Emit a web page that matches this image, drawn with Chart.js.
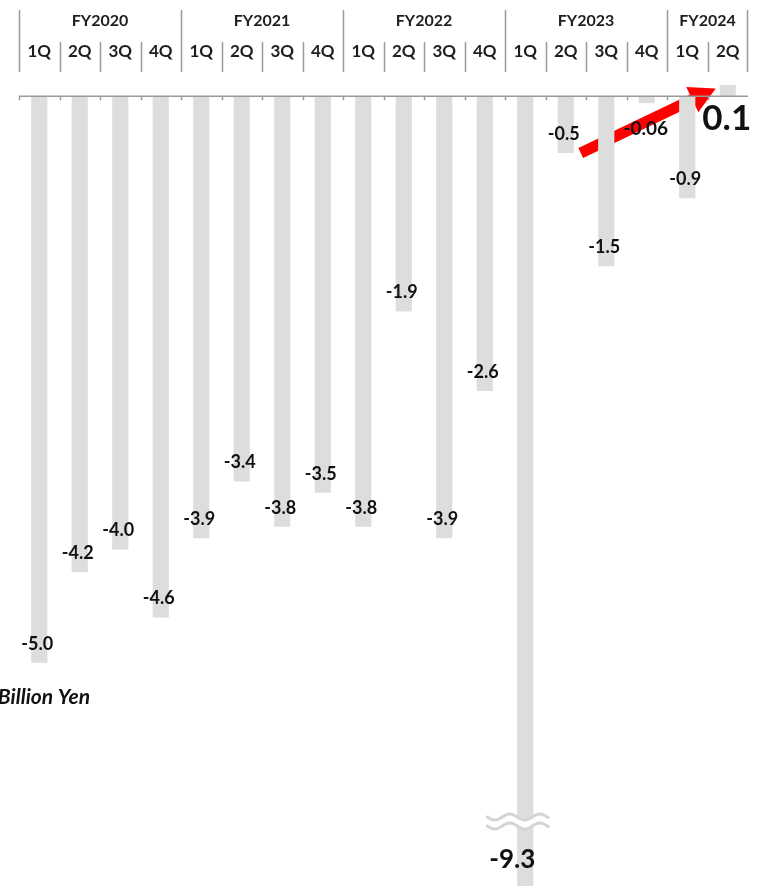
<!DOCTYPE html>
<html>
<head>
<meta charset="utf-8">
<script src="https://cdn.jsdelivr.net/npm/chart.js@4/dist/chart.umd.min.js"></script>
<style>
  html, body { margin: 0; padding: 0; background: #ffffff; }
  #wrap { width: 759px; height: 886px; position: relative; }
</style>
</head>
<body>
<div id="wrap"><canvas id="chart" width="759" height="886"></canvas></div>
<script>
// Quarterly operating result, billion yen
const fiscalYears = ['FY2020', 'FY2021', 'FY2022', 'FY2023', 'FY2024'];
const quartersPerYear = [4, 4, 4, 4, 2];
const quarters = ['1Q', '2Q', '3Q', '4Q', '1Q', '2Q', '3Q', '4Q', '1Q', '2Q', '3Q', '4Q',
                  '1Q', '2Q', '3Q', '4Q', '1Q', '2Q'];
const values = [-5.0, -4.2, -4.0, -4.6, -3.9, -3.4, -3.8, -3.5, -3.8, -1.9, -3.9, -2.6,
                -9.3, -0.5, -1.5, -0.06, -0.9, 0.1];
const unitLabel = 'Billion Yen';

const AXIS_MIN = -6.97;
const AXIS_MAX = 0.1;
const FONT = 'Lato, "Open Sans", sans-serif';

function fmt(v) {
  return Math.abs(v) < 0.1 && v !== 0 ? v.toFixed(2) : v.toFixed(1);
}

function wavePath(ctx, x0, x1, y, amp, period) {
  ctx.beginPath();
  for (let x = x0; x <= x1; x += 1) {
    const yy = y + amp * Math.sin(((x - x0) / period) * Math.PI * 2);
    if (x === x0) ctx.moveTo(x, yy); else ctx.lineTo(x, yy);
  }
}

const decorations = {
  id: 'decorations',
  beforeDatasetsDraw(chart) {
    // trend arrow from the FY2023 2Q result up to the FY2024 2Q result
    const ctx = chart.ctx;
    const xs = chart.scales.x, ys = chart.scales.y;
    const sx = xs.getPixelForValue(13) + 15, sy = ys.getPixelForValue(values[13]);
    const tx = xs.getPixelForValue(17) - 12, ty = ys.getPixelForValue(values[17] * 0.7);
    const ang = Math.atan2(ty - sy, tx - sx);
    const headLen = 26, headHalf = 14;
    const bx = tx - headLen * Math.cos(ang), by = ty - headLen * Math.sin(ang);
    ctx.save();
    ctx.strokeStyle = '#ff0000';
    ctx.fillStyle = '#ff0000';
    ctx.lineWidth = 11;
    ctx.lineCap = 'butt';
    ctx.beginPath();
    ctx.moveTo(sx, sy);
    ctx.lineTo(bx + 2 * Math.cos(ang), by + 2 * Math.sin(ang));
    ctx.stroke();
    const nx = -Math.sin(ang), ny = Math.cos(ang);
    ctx.beginPath();
    ctx.moveTo(tx, ty);
    ctx.lineTo(bx + headHalf * nx, by + headHalf * ny);
    ctx.lineTo(bx - headHalf * nx, by - headHalf * ny);
    ctx.closePath();
    ctx.fill();
    ctx.restore();
  },
  afterDatasetsDraw(chart) {
    const ctx = chart.ctx;
    const xs = chart.scales.x, ys = chart.scales.y;
    const n = values.length;
    const step = (xs.right - xs.left) / n;
    const y0 = ys.getPixelForValue(0);
    ctx.save();

    // zero axis with category ticks
    ctx.strokeStyle = '#9a9a9a';
    ctx.lineWidth = 1.5;
    ctx.beginPath();
    ctx.moveTo(xs.left, y0);
    ctx.lineTo(xs.right, y0);
    for (let i = 0; i < n; i++) {
      const x = Math.round(xs.left + i * step) + 0.5;
      ctx.moveTo(x, y0);
      ctx.lineTo(x, y0 + 4);
    }
    ctx.stroke();

    // period header
    let idx = 0;
    ctx.fillStyle = '#1e1e1e';
    ctx.textAlign = 'center';
    ctx.textBaseline = 'middle';
    ctx.lineWidth = 1.5;
    ctx.strokeStyle = '#9a9a9a';
    fiscalYears.forEach((fy, g) => {
      const count = quartersPerYear[g];
      const left = xs.left + idx * step;
      const right = xs.left + (idx + count) * step;
      ctx.beginPath();
      ctx.moveTo(Math.round(left) + 0.5, 10);
      ctx.lineTo(Math.round(left) + 0.5, 72);
      if (g === fiscalYears.length - 1) {
        ctx.moveTo(Math.round(right) - 0.5, 10);
        ctx.lineTo(Math.round(right) - 0.5, 72);
      }
      for (let q = 1; q < count; q++) {
        const x = Math.round(left + q * step) + 0.5;
        ctx.moveTo(x, 42);
        ctx.lineTo(x, 72);
      }
      ctx.stroke();
      ctx.font = 'bold 16px ' + FONT;
      ctx.fillText(fy, (left + right) / 2, 21);
      ctx.font = 'bold 17px ' + FONT;
      for (let q = 0; q < count; q++) {
        ctx.fillText(quarters[idx + q], xs.getPixelForValue(idx + q), 52);
      }
      idx += count;
    });

    // axis break on the bar that runs past the bottom of the scale
    values.forEach((v, i) => {
      if (v >= AXIS_MIN) return;
      const cx = xs.getPixelForValue(i);
      const x0 = cx - 38, x1 = cx + 23;
      const yb = ys.bottom - 65;
      ctx.save();
      ctx.lineCap = 'round';
      ctx.strokeStyle = '#ffffff';
      ctx.lineWidth = 9;
      wavePath(ctx, x0, x1, yb, 3, 30); ctx.stroke();
      ctx.strokeStyle = '#d4d4d4';
      ctx.lineWidth = 3;
      wavePath(ctx, x0, x1, yb - 4, 3, 30); ctx.stroke();
      wavePath(ctx, x0, x1, yb + 5, 3, 30); ctx.stroke();
      ctx.restore();
    });

    // value labels
    ctx.fillStyle = '#111111';
    ctx.textAlign = 'center';
    ctx.textBaseline = 'middle';
    values.forEach((v, i) => {
      const cx = xs.getPixelForValue(i);
      const text = fmt(v);
      if (v > 0) {
        ctx.font = 'bold 35px ' + FONT;
        ctx.fillText(text, cx - 1, y0 + 22);
      } else if (v < AXIS_MIN) {
        ctx.font = 'bold 26px ' + FONT;
        ctx.fillText(text, cx - 13, ys.bottom - 26);
      } else if (Math.abs(v) < 0.1) {
        ctx.font = 'bold 19px ' + FONT;
        ctx.fillText(text, cx - 1, ys.getPixelForValue(v) + 26);
      } else {
        ctx.font = 'bold 18px ' + FONT;
        ctx.fillText(text, cx - 2, ys.getPixelForValue(v) - 19);
      }
    });

    // unit
    ctx.font = 'italic bold 21px ' + FONT;
    ctx.textAlign = 'right';
    ctx.fillText(unitLabel, 90, ys.getPixelForValue(-5.3));
    ctx.restore();
  }
};

new Chart(document.getElementById('chart'), {
  type: 'bar',
  data: {
    labels: quarters.map((q, i) => i + ':' + q),
    datasets: [{
      data: values,
      backgroundColor: '#dddddd',
      borderWidth: 0,
      barPercentage: 0.4,
      categoryPercentage: 1.0
    }]
  },
  options: {
    responsive: false,
    animation: false,
    events: [],
    layout: { padding: { top: 85, left: 19, right: 11, bottom: 0 } },
    plugins: { legend: { display: false }, tooltip: { enabled: false } },
    scales: {
      x: { display: false },
      y: { display: false, min: AXIS_MIN, max: AXIS_MAX }
    }
  },
  plugins: [decorations]
});
</script>
</body>
</html>
